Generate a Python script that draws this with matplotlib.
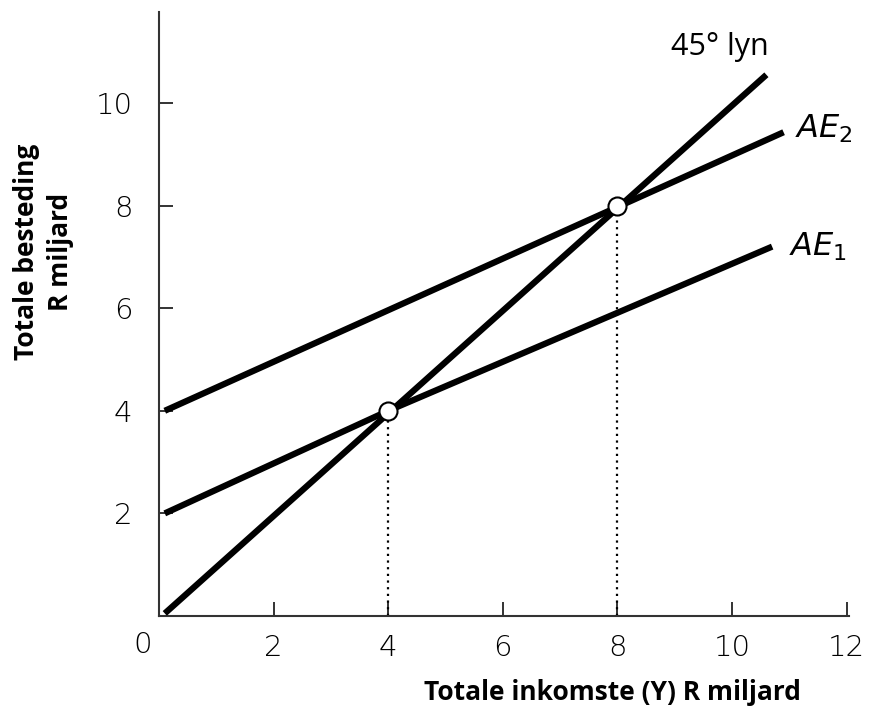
import matplotlib
matplotlib.use("Agg")
import matplotlib.pyplot as plt

# data (R miljard)
line45_x = [0.1, 10.6]
line45_y = [0.05, 10.55]
ae1_x = [0.1, 4.0, 10.7]
ae1_y = [2.0, 4.0, 7.2]
ae2_x = [0.1, 10.9]
ae2_y = [4.0, 9.43]
eq_x = [4, 8]
eq_y = [4, 8]
xticks = [2, 4, 6, 8, 10, 12]
yticks = [2, 4, 6, 8, 10]

tickfont = "DejaVu Sans"
labfont = "Open Sans"

fig = plt.figure(figsize=(8.71, 7.09), dpi=100)
ax = fig.add_axes([0.1826, 0.1312, 0.7927, 0.8516])

ax.plot(line45_x, line45_y, color="k", lw=4.5, solid_capstyle="butt", zorder=3)
ax.plot(ae1_x, ae1_y, color="k", lw=4.5, solid_capstyle="butt", zorder=3)
ax.plot(ae2_x, ae2_y, color="k", lw=4.5, solid_capstyle="butt", zorder=3)

for x, y in zip(eq_x, eq_y):
    ax.plot([x, x], [0, y], color="k", lw=1.6, ls=(0, (1, 2)), zorder=2)
ax.plot(eq_x, eq_y, "o", ms=13, mfc="white", mec="k", mew=1.5, zorder=4)

ax.set_xlim(0, 12.05)
ax.set_ylim(0, 11.77)
ax.spines["top"].set_visible(False)
ax.spines["right"].set_visible(False)
for s in ("left", "bottom"):
    ax.spines[s].set_linewidth(1.5)
    ax.spines[s].set_color("#333333")

ax.set_xticks(xticks)
ax.set_yticks(yticks)
ax.set_xticklabels([str(v) for v in xticks], fontsize=21, family=tickfont, fontweight="light")
ax.set_yticklabels([str(v) for v in yticks], fontsize=21, family=tickfont, fontweight="light")
ax.tick_params(axis="both", direction="in", length=10, width=1.4, color="#333333")
ax.tick_params(axis="x", pad=13)
ax.tick_params(axis="y", pad=19)
ax.text(-0.28, -0.56, "0", fontsize=21, family=tickfont, fontweight="light",
        ha="center", va="center", clip_on=False)

ax.text(9.78, 11.1, "45° lyn", fontsize=22, family=labfont, ha="center", va="center")
ax.text(11.1, 9.5, r"$\mathit{AE}_2$", fontsize=23, ha="left", va="center")
ax.text(11.0, 7.2, r"$\mathit{AE}_1$", fontsize=23, ha="left", va="center")

fig.text(0.7027, 0.0226, "Totale inkomste (Y) R miljard", fontsize=19, family=labfont,
         fontweight="bold", ha="center", va="center")
fig.text(0.050, 0.6446, "Totale besteding\nR miljard", fontsize=19, family=labfont,
         fontweight="bold", ha="center", va="center", rotation=90, linespacing=1.3)

fig.savefig("out.png", dpi=100)
